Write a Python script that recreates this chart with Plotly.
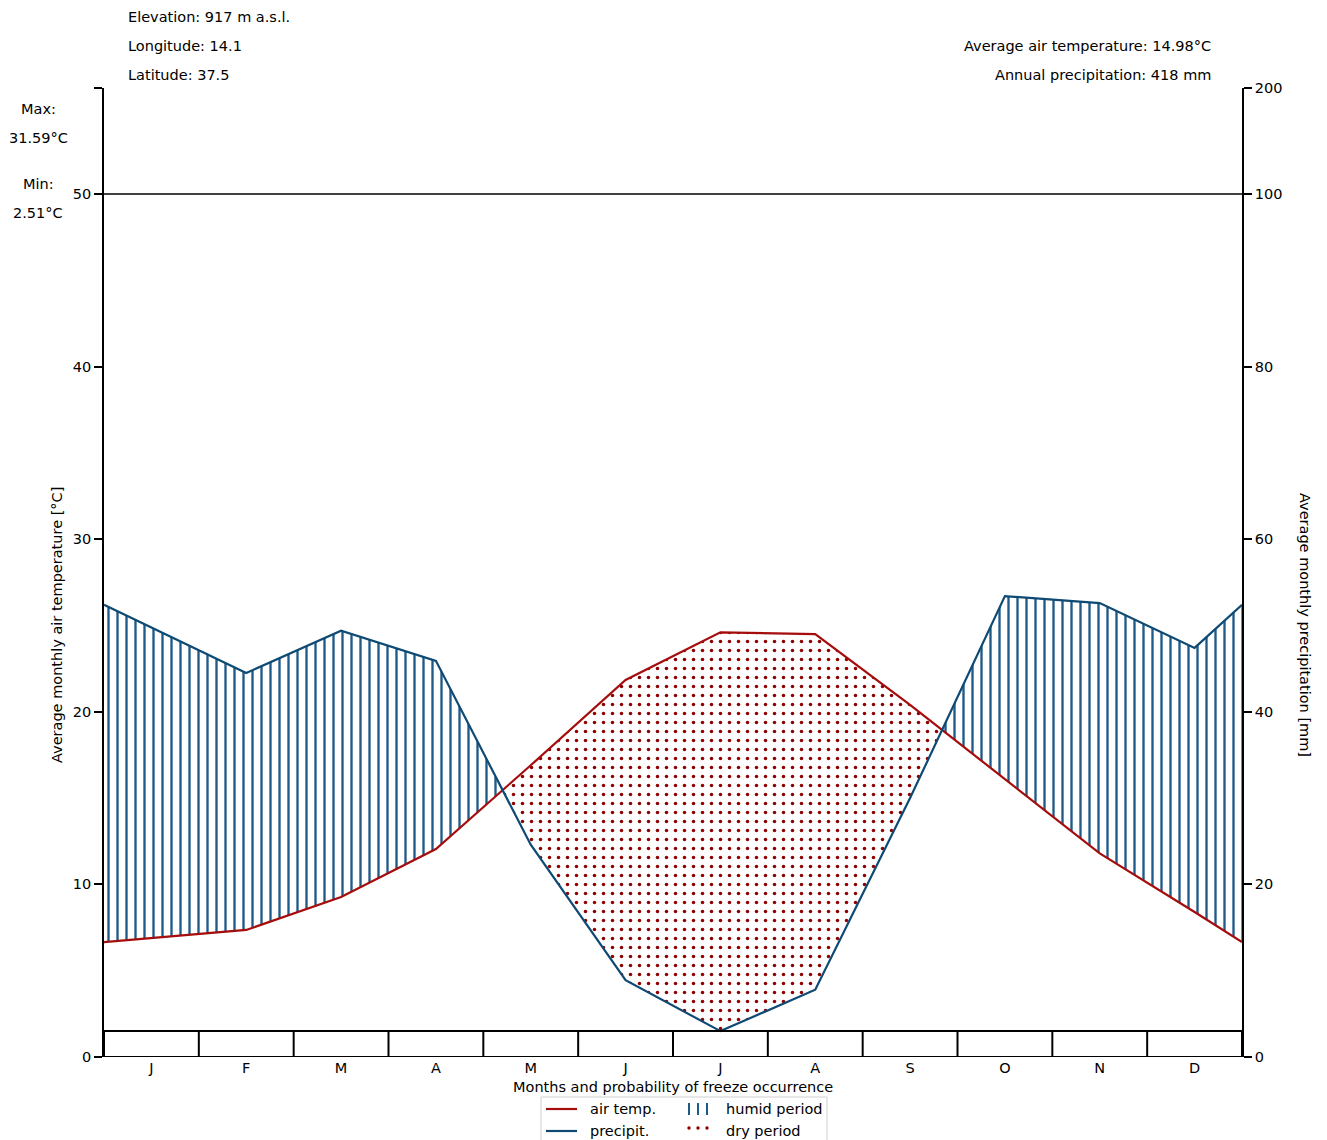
import plotly.graph_objects as go

# ---------------- data ----------------
months = ["J", "F", "M", "A", "M", "J", "J", "A", "S", "O", "N", "D"]
temp = [6.66, 7.36, 9.27, 12.05, 16.9, 21.84, 24.6, 24.5, 20.4, 16.1, 11.8, 8.4]      # °C
precip = [52.4, 44.5, 49.4, 45.9, 24.6, 8.9, 3.0, 7.8, 30.0, 53.4, 52.6, 47.4]         # mm
left_ticks = [0, 10, 20, 30, 40, 50]
right_tick_labels = ["0", "20", "40", "60", "80", "100", "200"]
info_left = ["Elevation: 917 m a.s.l.", "Longitude: 14.1", "Latitude: 37.5"]
info_right = ["Average air temperature: 14.98°C", "Annual precipitation: 418 mm"]
extremes = ["Max:", "31.59°C", "Min:", "2.51°C"]
freeze_box_height = 1.5
y_top = 56.14

RED = "#a50d0d"
BLUE = "#0e4a73"
HATCH = "#1d5a87"
DOT = "#8e0000"
FONT = "DejaVu Sans"
FS = 14.5

# ---------------- geometry helpers (figure pixels -> paper) ----------------
W_FIG, H_FIG = 1327, 1140
L, R, T, B = 104, 1242, 88, 1057
PW, PH = R - L, B - T


def px(x):
    return (x - L) / PW


def py(y):
    return (B - y) / PH


# x positions: Jan sits at both edges, other months at their centres
n = len(months)
xs = [0.0] + [i + 0.5 for i in range(1, n)] + [float(n)]
t_ext = temp + [temp[0]]
p_ext = [v / 2 for v in precip] + [precip[0] / 2]   # 20 mm == 10 °C

# insert crossing points
gx, gt, gp = [xs[0]], [t_ext[0]], [p_ext[0]]
for i in range(len(xs) - 1):
    d0 = p_ext[i] - t_ext[i]
    d1 = p_ext[i + 1] - t_ext[i + 1]
    if d0 * d1 < 0:
        f = d0 / (d0 - d1)
        cx = xs[i] + f * (xs[i + 1] - xs[i])
        ct = t_ext[i] + f * (t_ext[i + 1] - t_ext[i])
        gx.append(cx); gt.append(ct); gp.append(ct)
    gx.append(xs[i + 1]); gt.append(t_ext[i + 1]); gp.append(p_ext[i + 1])

hum_top = [max(a, b) for a, b in zip(gp, gt)]
dry_bot = [min(a, b) for a, b in zip(gp, gt)]

fig = go.Figure()

fig.add_trace(go.Scatter(
    x=gx + gx[::-1], y=hum_top + gt[::-1], mode="lines", line=dict(width=0),
    fill="toself", fillcolor="rgba(0,0,0,0)",
    fillpattern=dict(shape="|", fgcolor=HATCH, bgcolor="rgba(0,0,0,0)", size=9,
                     solidity=0.26, fillmode="overlay", fgopacity=1),
    hoverinfo="skip", showlegend=False))

fig.add_trace(go.Scatter(
    x=gx + gx[::-1], y=gt + dry_bot[::-1], mode="lines", line=dict(width=0),
    fill="toself", fillcolor="rgba(0,0,0,0)",
    fillpattern=dict(shape=".", fgcolor=DOT, bgcolor="rgba(0,0,0,0)", size=9,
                     solidity=0.12, fillmode="overlay", fgopacity=1),
    hoverinfo="skip", showlegend=False))

fig.add_trace(go.Scatter(x=xs, y=t_ext, mode="lines", line=dict(color=RED, width=2.2),
                         showlegend=False, name="air temp."))
fig.add_trace(go.Scatter(x=xs, y=p_ext, mode="lines", line=dict(color=BLUE, width=2.2),
                         showlegend=False, name="precipit."))
# invisible trace for right axis
fig.add_trace(go.Scatter(x=[0], y=[0], yaxis="y2", mode="markers",
                         marker=dict(opacity=0), showlegend=False, hoverinfo="skip"))

shapes = []
# 50 °C / 100 mm line
shapes.append(dict(type="line", xref="x", yref="y", x0=0, x1=n, y0=50, y1=50,
                   line=dict(color="black", width=1.6)))
# freeze probability box
shapes.append(dict(type="rect", xref="x", yref="y", x0=0, x1=n, y0=0, y1=freeze_box_height,
                   line=dict(color="black", width=2)))
for i in range(1, n):
    shapes.append(dict(type="line", xref="x", yref="y", x0=i, x1=i, y0=0, y1=freeze_box_height,
                       line=dict(color="black", width=2)))

# manual legend
shapes.append(dict(type="rect", xref="paper", yref="paper", x0=px(541), x1=px(827),
                   y0=py(1160), y1=py(1097), line=dict(color="#cfcfcf", width=1),
                   fillcolor="white", layer="below"))
shapes.append(dict(type="line", xref="paper", yref="paper", x0=px(546), x1=px(577),
                   y0=py(1109), y1=py(1109), line=dict(color=RED, width=2.2)))
shapes.append(dict(type="line", xref="paper", yref="paper", x0=px(546), x1=px(577),
                   y0=py(1131), y1=py(1131), line=dict(color=BLUE, width=2.2)))
for xx in (689, 698, 707):
    shapes.append(dict(type="line", xref="paper", yref="paper", x0=px(xx), x1=px(xx),
                       y0=py(1115), y1=py(1103), line=dict(color=HATCH, width=2)))
    shapes.append(dict(type="circle", xref="paper", yref="paper",
                       x0=px(xx - 1.7), x1=px(xx + 1.7), y0=py(1129.7), y1=py(1126.3),
                       fillcolor=DOT, line=dict(width=0)))

ann = []


def text(s, x, y, xanchor="left", angle=0, size=FS):
    ann.append(dict(text=s, x=px(x), y=py(y), xref="paper", yref="paper",
                    xanchor=xanchor, yanchor="middle", showarrow=False, textangle=angle,
                    font=dict(family=FONT, size=size, color="black")))


for s, y in zip(info_left, (17, 46, 75)):
    text(s, 126, y)
for s, y in zip(info_right, (46, 75)):
    text(s, 1213, y, xanchor="right")
for s, y in zip(extremes, (109, 138, 184, 213)):
    text(s, 38, y, xanchor="center")
text("Months and probability of freeze occurrence", 673, 1087, xanchor="center")
text("Average monthly air temperature [°C]", 57, 625, xanchor="center", angle=-90)
text("Average monthly precipitation [mm]", 1305, 625, xanchor="center", angle=90)
text("air temp.", 588, 1109)
text("precipit.", 588, 1131)
text("humid period", 724, 1109)
text("dry period", 724, 1131)

fig.update_layout(
    width=W_FIG, height=H_FIG,
    margin=dict(l=L, r=W_FIG - R, t=T, b=H_FIG - B),
    paper_bgcolor="white", plot_bgcolor="white",
    font=dict(family=FONT, size=FS, color="black"),
    xaxis=dict(range=[0, n], tickvals=[i + 0.5 for i in range(n)], ticktext=months,
               ticks="", showgrid=False, zeroline=False, showline=False,
               tickfont=dict(family=FONT, size=FS)),
    yaxis=dict(range=[0, y_top], tickvals=left_ticks + [y_top],
               ticktext=[str(v) for v in left_ticks] + [""],
               ticks="outside", ticklen=8, tickwidth=1.5, tickcolor="black",
               showline=True, linecolor="black", linewidth=1.6,
               showgrid=False, zeroline=False),
    yaxis2=dict(range=[0, y_top], overlaying="y", side="right",
                tickvals=left_ticks + [y_top], ticktext=right_tick_labels,
                ticks="outside", ticklen=8, tickwidth=1.5, tickcolor="black",
                showline=True, linecolor="black", linewidth=1.6,
                showgrid=False, zeroline=False),
    shapes=shapes, annotations=ann, showlegend=False,
)

fig.write_html("out.html")
